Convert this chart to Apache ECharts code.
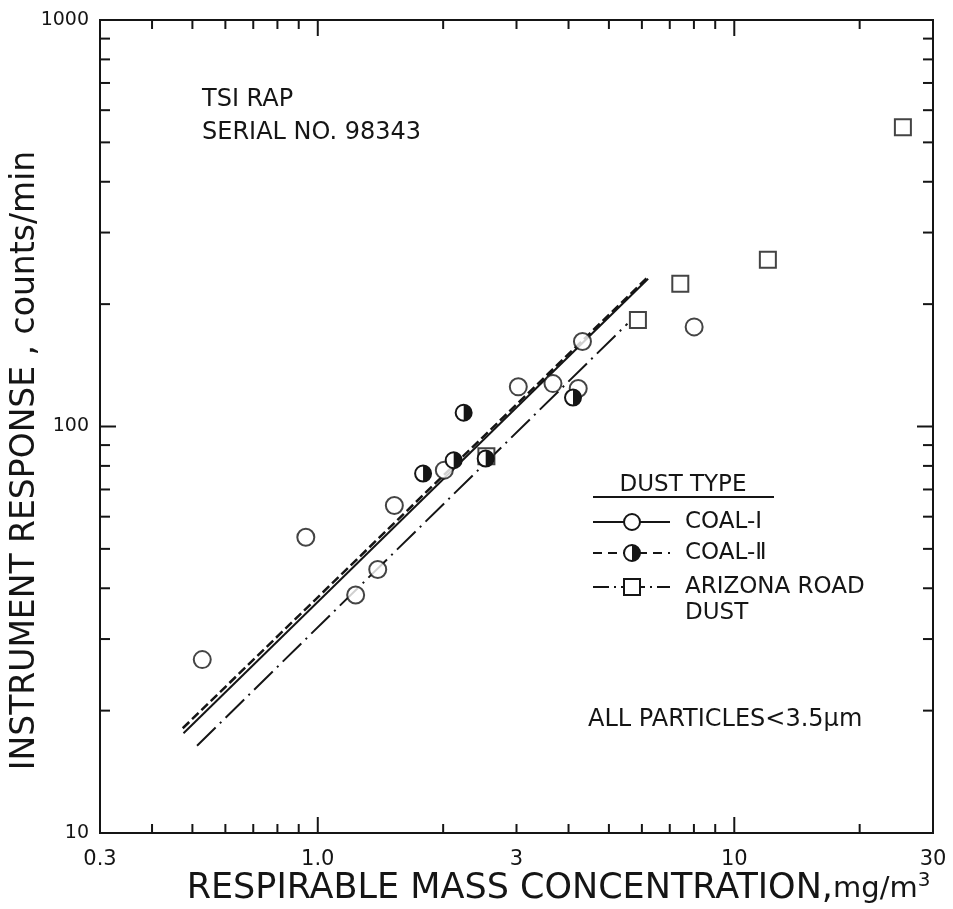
<!DOCTYPE html>
<html>
<head>
<meta charset="utf-8">
<script src="https://cdn.jsdelivr.net/npm/echarts@6/dist/echarts.min.js"></script>
<style>
  html, body { margin: 0; padding: 0; background: #fff; }
  #chart { width: 953px; height: 909px; }
</style>
</head>
<body>
<div id="chart"></div>
<script>
// data (x: mg/m3, y: counts/min)
var coal1 = [
  [0.528, 26.7], [0.936, 53.4], [1.527, 63.9], [1.233, 38.5], [1.393, 44.5],
  [2.013, 78.1], [3.03, 125.2], [3.67, 127.5], [4.32, 161.8], [4.22, 124],
  [8.01, 175.8]
];
var coal2 = [
  [1.79, 76.6], [2.12, 82.6], [2.24, 108.1], [2.53, 83.4], [4.10, 117.8]
];
var arizona = [
  [2.54, 84.5], [5.87, 182.9], [7.42, 224.6], [12.04, 257.3], [25.4, 545]
];
// fitted lines, end points
var coal1Fit = [[0.476, 17.6], [6.21, 231]];
var coal2Fit = [[0.474, 18.1], [6.2, 233]];
var arizonaFit = [[0.513, 16.4], [5.54, 179]];

// axes
var xTicks = [0.4, 0.5, 0.6, 0.7, 0.8, 0.9, 1, 2, 3, 4, 5, 6, 7, 8, 9, 10, 20];
var xMajor = [1, 10];
var xLabels = [[0.3, '0.3'], [1, '1.0'], [3, '3'], [10, '10'], [30, '30']];
var yTicks = [20, 30, 40, 50, 60, 70, 80, 90, 100, 200, 300, 400, 500, 600, 700, 800, 900];
var yMajor = [100];
var yLabels = [[10, '10'], [100, '100'], [1000, '1000']];

var ink = '#151515';
var fontFam = '"DejaVu Sans", sans-serif';

var chart = echarts.init(document.getElementById('chart'));

function xTickItem(params, api) {
  var cs = params.coordSys;
  var v = api.value(0);
  var p = api.coord([v, 100]);
  var len = xMajor.indexOf(v) >= 0 ? 16 : 9;
  var bottom = cs.y + cs.height;
  return {
    type: 'group',
    children: [
      { type: 'line', shape: { x1: p[0], y1: bottom, x2: p[0], y2: bottom - len }, style: { stroke: ink, lineWidth: 2 } },
      { type: 'line', shape: { x1: p[0], y1: cs.y, x2: p[0], y2: cs.y + len }, style: { stroke: ink, lineWidth: 2 } }
    ]
  };
}

function yTickItem(params, api) {
  var cs = params.coordSys;
  var v = api.value(1);
  var p = api.coord([1, v]);
  var len = yMajor.indexOf(v) >= 0 ? 16 : 10;
  var right = cs.x + cs.width;
  return {
    type: 'group',
    children: [
      { type: 'line', shape: { x1: cs.x, y1: p[1], x2: cs.x + len, y2: p[1] }, style: { stroke: ink, lineWidth: 2 } },
      { type: 'line', shape: { x1: right, y1: p[1], x2: right - len, y2: p[1] }, style: { stroke: ink, lineWidth: 2 } }
    ]
  };
}

function xLabelItem(params, api) {
  var cs = params.coordSys;
  var p = api.coord([api.value(0), 100]);
  return {
    type: 'text', x: p[0], y: cs.y + cs.height + 16,
    style: { text: xLabels[params.dataIndex][1], font: '21px ' + fontFam, fill: ink, align: 'center', verticalAlign: 'top' }
  };
}

function yLabelItem(params, api) {
  var cs = params.coordSys;
  var p = api.coord([1, api.value(1)]);
  return {
    type: 'text', x: cs.x - 11, y: p[1],
    style: { text: yLabels[params.dataIndex][1], font: '19px ' + fontFam, fill: ink, align: 'right', verticalAlign: 'middle' }
  };
}

function halfCircle(params, api) {
  var p = api.coord([api.value(0), api.value(1)]);
  var r = 8;
  return {
    type: 'group',
    children: [
      { type: 'circle', shape: { cx: p[0], cy: p[1], r: r }, style: { fill: '#fff', stroke: ink, lineWidth: 2 } },
      { type: 'sector', shape: { cx: p[0], cy: p[1], r: r, r0: 0, startAngle: -Math.PI / 2, endAngle: Math.PI / 2 }, style: { fill: ink } }
    ]
  };
}

var legendFont = '23px ' + fontFam;

option = {
  backgroundColor: '#fff',
  animation: false,
  grid: {
    left: 100, right: 20, top: 20, bottom: 76,
    outerBoundsMode: 'none', containLabel: false,
    show: true, borderColor: ink, borderWidth: 2, backgroundColor: 'transparent'
  },
  xAxis: {
    type: 'log', logBase: 10, min: 0.3, max: 30,
    axisLine: { show: false }, axisTick: { show: false },
    axisLabel: { show: false }, splitLine: { show: false },
    name: 'RESPIRABLE MASS CONCENTRATION,{u|mg/m}{sup|3}',
    nameLocation: 'middle', nameGap: 38,
    nameTextStyle: {
      color: ink, fontFamily: fontFam, fontSize: 35, padding: [0, 0, 0, 84],
      rich: {
        u: { fontFamily: fontFam, fontSize: 29, color: ink },
        sup: { fontFamily: fontFam, fontSize: 20, color: ink, verticalAlign: 'top', padding: [0, 0, 16, 0] }
      }
    }
  },
  yAxis: {
    type: 'log', logBase: 10, min: 10, max: 1000,
    axisLine: { show: false }, axisTick: { show: false },
    axisLabel: { show: false }, splitLine: { show: false },
    name: 'INSTRUMENT RESPONSE , counts/min',
    nameLocation: 'middle', nameRotate: 90, nameGap: 58,
    nameTextStyle: { color: ink, fontFamily: fontFam, fontSize: 33, padding: [0, 68, 0, 0] }
  },
  series: [
    { type: 'custom', renderItem: xTickItem, data: xTicks.map(function (v) { return [v, 100]; }), silent: true, z: 1 },
    { type: 'custom', renderItem: yTickItem, data: yTicks.map(function (v) { return [1, v]; }), silent: true, z: 1 },
    { type: 'custom', renderItem: xLabelItem, data: xLabels.map(function (d) { return [d[0], 100]; }), silent: true },
    { type: 'custom', renderItem: yLabelItem, data: yLabels.map(function (d) { return [1, d[0]]; }), silent: true },
    {
      name: 'COAL-I fit', type: 'line', data: coal1Fit, showSymbol: false, symbol: 'none',
      lineStyle: { color: ink, width: 2, type: 'solid' }, z: 2
    },
    {
      name: 'COAL-II fit', type: 'line', data: coal2Fit, showSymbol: false, symbol: 'none',
      lineStyle: { color: ink, width: 2.5, type: [9, 4] }, z: 2
    },
    {
      name: 'ARIZONA fit', type: 'line', data: arizonaFit, showSymbol: false, symbol: 'none',
      lineStyle: { color: ink, width: 2, type: [26, 6, 2, 6] }, z: 2
    },
    {
      name: 'ARIZONA ROAD DUST', type: 'scatter', data: arizona, symbol: 'rect', symbolSize: 16,
      itemStyle: { color: '#fff', borderColor: ink, borderWidth: 2 }, z: 3
    },
    {
      name: 'COAL-I', type: 'scatter', data: coal1, symbol: 'circle', symbolSize: 17,
      itemStyle: { color: '#fff', borderColor: ink, borderWidth: 2 }, z: 4
    },
    { name: 'COAL-II', type: 'custom', renderItem: halfCircle, data: coal2, z: 5 }
  ],
  graphic: [
    { type: 'text', x: 202, y: 100, style: { text: 'TSI RAP', fill: ink, font: '24px ' + fontFam, verticalAlign: 'middle' } },
    { type: 'text', x: 202, y: 133, style: { text: 'SERIAL NO. 98343', fill: ink, font: '24px ' + fontFam, verticalAlign: 'middle' } },
    // legend
    { type: 'text', x: 683, y: 485, style: { text: 'DUST TYPE', fill: ink, font: legendFont, align: 'center', verticalAlign: 'middle' } },
    { type: 'line', shape: { x1: 593, y1: 497, x2: 774, y2: 497 }, style: { stroke: ink, lineWidth: 2 } },
    { type: 'line', shape: { x1: 593, y1: 522, x2: 670, y2: 522 }, style: { stroke: ink, lineWidth: 2 } },
    { type: 'circle', shape: { cx: 632, cy: 522, r: 8 }, style: { fill: '#fff', stroke: ink, lineWidth: 2 } },
    { type: 'text', x: 685, y: 522, style: { text: 'COAL-Ⅰ', fill: ink, font: legendFont, verticalAlign: 'middle' } },
    { type: 'line', shape: { x1: 593, y1: 553, x2: 670, y2: 553 }, style: { stroke: ink, lineWidth: 2, lineDash: [9, 6] } },
    { type: 'circle', shape: { cx: 632, cy: 553, r: 8 }, style: { fill: '#fff', stroke: ink, lineWidth: 2 } },
    { type: 'sector', shape: { cx: 632, cy: 553, r: 8, r0: 0, startAngle: -Math.PI / 2, endAngle: Math.PI / 2 }, style: { fill: ink } },
    { type: 'text', x: 685, y: 553, style: { text: 'COAL-Ⅱ', fill: ink, font: legendFont, verticalAlign: 'middle' } },
    { type: 'line', shape: { x1: 593, y1: 587, x2: 670, y2: 587 }, style: { stroke: ink, lineWidth: 2, lineDash: [24, 5, 2, 5], lineDashOffset: 8 } },
    { type: 'rect', shape: { x: 624, y: 579, width: 16, height: 16 }, style: { fill: '#fff', stroke: ink, lineWidth: 2 } },
    { type: 'text', x: 685, y: 587, style: { text: 'ARIZONA ROAD', fill: ink, font: legendFont, verticalAlign: 'middle' } },
    { type: 'text', x: 685, y: 613, style: { text: 'DUST', fill: ink, font: legendFont, verticalAlign: 'middle' } },
    { type: 'text', x: 588, y: 720, style: { text: 'ALL PARTICLES<3.5μm', fill: ink, font: '24px ' + fontFam, verticalAlign: 'middle' } }
  ]
};

chart.setOption(option);
</script>
</body>
</html>
